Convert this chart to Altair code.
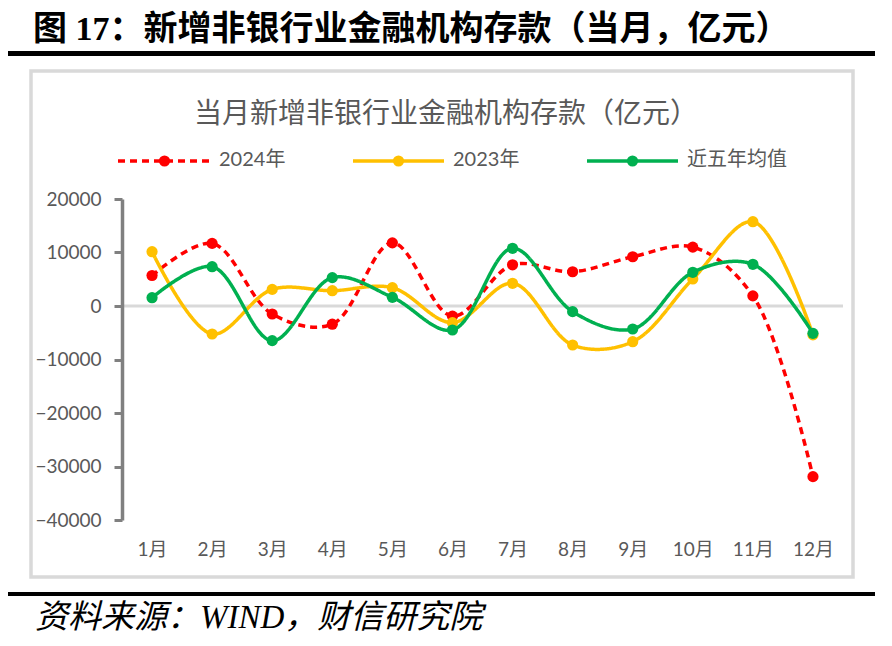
import altair as alt
import pandas as pd

months = ["1月", "2月", "3月", "4月", "5月", "6月", "7月", "8月", "9月", "10月", "11月", "12月"]
series_names = ["2024年", "2023年", "近五年均值"]
v2024 = [5700, 11700, -1500, -3400, 11800, -1900, 7700, 6400, 9200, 11000, 1900, -31900]
v2023 = [10150, -5230, 3100, 2860, 3420, -3100, 4240, -7290, -6670, 5050, 15760, -5400]
v5avg = [1550, 7350, -6480, 5300, 1620, -4490, 10780, -1060, -4300, 6300, 7790, -5110]
y_ticks = [-40000, -30000, -20000, -10000, 0, 10000, 20000]

main_title = "图 17：新增非银行业金融机构存款（当月，亿元）"
inner_title = "当月新增非银行业金融机构存款（亿元）"
source_text = "资料来源：WIND，财信研究院"

colors = ["#FF0000", "#FFC000", "#00B050"]
dashes = [[7, 5], [1, 0], [1, 0]]

W, H = 721, 321
CJK = "Noto Sans CJK SC"
NUM = "Lato, 'Noto Sans CJK SC'"
GRAY_TEXT = "#595959"

one = alt.Data(values=[{}])

x_enc = alt.X("month:O", sort=months,
              scale=alt.Scale(type="point", domain=months, padding=0.5),
              axis=alt.Axis(title=None, labelAngle=0, domain=False, ticks=False,
                            labelPadding=20, labelFont=NUM, labelFontSize=19,
                            labelColor=GRAY_TEXT))
y_enc = alt.Y("value:Q",
              scale=alt.Scale(domain=[-40000, 20000], nice=False, zero=False),
              axis=alt.Axis(title=None, values=y_ticks, grid=False, format="d",
                            domainColor="#808080", domainWidth=3.5,
                            tickColor="#808080", tickWidth=3, tickSize=8,
                            labelPadding=13, labelFont=NUM, labelFontSize=19,
                            labelColor=GRAY_TEXT, zindex=1))

layers = []

# chart box
layers.append(alt.Chart(one).mark_rect(fillOpacity=0, stroke="#D9D9D9", strokeWidth=3.5).encode(
    x=alt.value(-91), x2=alt.value(731), y=alt.value(-128), y2=alt.value(378)))

# zero line
layers.append(alt.Chart(pd.DataFrame({"value": [0]})).mark_rule(color="#D9D9D9", strokeWidth=3).encode(
    y=alt.Y("value:Q", scale=alt.Scale(domain=[-40000, 20000], nice=False, zero=False))))

for name, vals, col, dash in zip(series_names, [v2024, v2023, v5avg], colors, dashes):
    df = pd.DataFrame({"month": months, "value": vals, "series": name})
    base = alt.Chart(df)
    layers.append(base.mark_line(color=col, strokeWidth=3.5, strokeDash=dash,
                                 interpolate="catmull-rom").encode(x=x_enc, y=y_enc))
    layers.append(base.mark_circle(color=col, size=125, opacity=1).encode(x=x_enc, y=y_enc))

# legend
leg_line_x = [(-4, 89), (231, 322), (465, 556)]
leg_text_x = [97, 331, 565]
for name, col, dash, (lx1, lx2), tx in zip(series_names, colors, dashes, leg_line_x, leg_text_x):
    layers.append(alt.Chart(one).mark_rule(color=col, strokeWidth=3.5, strokeDash=dash).encode(
        x=alt.value(lx1), x2=alt.value(lx2), y=alt.value(-38)))
    layers.append(alt.Chart(one).mark_circle(color=col, size=125, opacity=1).encode(
        x=alt.value((lx1 + lx2) / 2), y=alt.value(-38)))
    layers.append(alt.Chart(one).mark_text(text=name, align="left", baseline="middle",
                                           font=NUM, fontSize=20, color=GRAY_TEXT).encode(
        x=alt.value(tx), y=alt.value(-39)))

# inner title
layers.append(alt.Chart(one).mark_text(text=inner_title, align="center", baseline="middle",
                                       font=CJK, fontSize=28, color=GRAY_TEXT).encode(
    x=alt.value(324), y=alt.value(-84)))

# main title and rules
layers.append(alt.Chart(one).mark_text(text=main_title, align="left", baseline="middle",
                                       font="'Liberation Serif', 'Noto Sans CJK SC'",
                                       fontSize=34, fontWeight="bold", color="black").encode(
    x=alt.value(-89), y=alt.value(-169)))
layers.append(alt.Chart(one).mark_rule(color="black", strokeWidth=5).encode(
    x=alt.value(-114), x2=alt.value(753), y=alt.value(-145.5)))
layers.append(alt.Chart(one).mark_rule(color="black", strokeWidth=4).encode(
    x=alt.value(-114), x2=alt.value(753), y=alt.value(395)))
layers.append(alt.Chart(one).mark_text(text=source_text, align="left", baseline="middle",
                                       font="'Liberation Serif', 'Noto Sans CJK SC'",
                                       fontSize=33, fontStyle="italic", color="black").encode(
    x=alt.value(-87), y=alt.value(419)))

chart = alt.layer(*layers).properties(
    width=W, height=H,
    autosize=alt.AutoSizeParams(type="none"),
    padding={"left": 114, "top": 191, "right": 39, "bottom": 119},
    background="white",
).configure_view(strokeWidth=0)

chart.save("out.html", embed_options={"renderer": "svg", "actions": False})
